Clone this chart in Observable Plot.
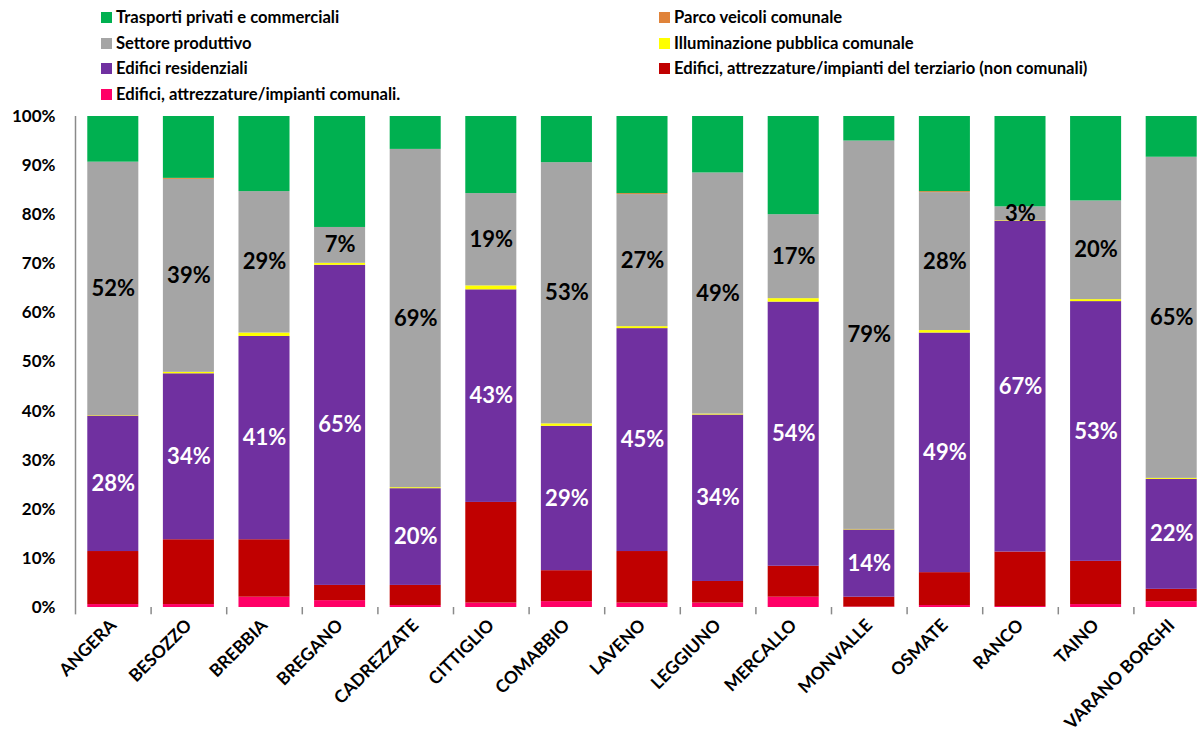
<!DOCTYPE html>
<html>
<head>
<meta charset="utf-8">
<script src="https://cdn.jsdelivr.net/npm/d3@7"></script>
<script src="https://cdn.jsdelivr.net/npm/@observablehq/plot@0.6"></script>
<style>
  html, body { margin: 0; padding: 0; background: #fff; }
  #wrap { position: relative; width: 1199px; height: 734px; overflow: hidden; font-family: Lato, "Open Sans", sans-serif; font-weight: bold; }
  #chart { position: absolute; left: 0; top: 0; }
  .leg { position: absolute; display: flex; align-items: center; font-size: 16.6px; color: #000; white-space: nowrap; line-height: 1; }
  .sw { display: inline-block; width: 11px; height: 11px; margin-right: 4px; }
</style>
</head>
<body>
<div id="wrap">
  <div id="chart"></div>
  <div id="legend"></div>
</div>
<script>
const cities = ["ANGERA","BESOZZO","BREBBIA","BREGANO","CADREZZATE","CITTIGLIO","COMABBIO","LAVENO","LEGGIUNO","MERCALLO","MONVALLE","OSMATE","RANCO","TAINO","VARANO BORGHI"];

// series, bottom to top of the stack
const seriesNames = [
  "Edifici, attrezzature/impianti comunali.",
  "Edifici, attrezzature/impianti del terziario (non comunali)",
  "Edifici residenziali",
  "Illuminazione pubblica comunale",
  "Settore produttivo",
  "Parco veicoli comunale",
  "Trasporti privati e commerciali"
];
const seriesColors = ["#FF0066","#C00000","#7030A0","#FFFF00","#A5A5A5","#E0833A","#00B050"];

// values in percent
const comunali      = [0.6, 0.6, 2.1, 1.4, 0.4, 0.9, 1.2, 0.9, 0.9, 2.1, 0.1, 0.4, 0.2, 0.6, 1.2];
const terziario     = [10.8, 13.2, 11.7, 3.1, 4.1, 20.5, 6.3, 10.5, 4.4, 6.3, 2.0, 6.7, 11.1, 8.8, 2.5];
const residenziali  = [27.6, 33.8, 41.4, 65.2, 19.7, 43.3, 29.4, 45.4, 33.9, 53.8, 13.7, 48.8, 67.4, 52.9, 22.4];
const illuminazione = [0.1, 0.3, 0.7, 0.4, 0.2, 0.8, 0.5, 0.4, 0.2, 0.7, 0.1, 0.5, 0.1, 0.4, 0.2];
const produttivo    = [51.6, 39.3, 28.8, 7.3, 68.9, 18.8, 53.2, 26.9, 49.1, 17.1, 79.1, 28.1, 2.8, 20.1, 65.4];
const parcoVeicoli  = [0, 0.2, 0, 0, 0, 0, 0, 0.2, 0, 0, 0, 0.2, 0, 0, 0];
const trasporti     = [9.3, 12.6, 15.3, 22.6, 6.7, 15.7, 9.4, 15.7, 11.5, 20.0, 5.0, 15.3, 18.4, 17.2, 8.3];

const seriesValues = [comunali, terziario, residenziali, illuminazione, produttivo, parcoVeicoli, trasporti];
const labelled = {"Edifici residenziali": "#ffffff", "Settore produttivo": "#000000"};

const yTicks = [0,10,20,30,40,50,60,70,80,90,100];
const yTickLabels = ["0%","10%","20%","30%","40%","50%","60%","70%","80%","90%","100%"];

// legend layout (display order)
const legendOrder = [
  "Trasporti privati e commerciali", "Parco veicoli comunale",
  "Settore produttivo", "Illuminazione pubblica comunale",
  "Edifici residenziali", "Edifici, attrezzature/impianti del terziario (non comunali)",
  "Edifici, attrezzature/impianti comunali."
];

const data = [];
seriesNames.forEach((s, si) => {
  cities.forEach((c, ci) => data.push({city: c, series: s, value: seriesValues[si][ci]}));
});

const W = 1199, H = 734;
const x0 = 75, x1 = 1209;
const step = (x1 - x0) / cities.length;
const grid = "#8a8a8a";

const chart = Plot.plot({
  width: W,
  height: H,
  marginTop: 116,
  marginBottom: 127,
  marginLeft: 75,
  marginRight: 0,
  style: {fontFamily: "Lato, 'Open Sans', sans-serif", fontWeight: "bold", color: "#000", background: "#fff"},
  x: {domain: cities, range: [x0, x1], paddingInner: 0.325, paddingOuter: 0.1625, round: false, label: null},
  y: {domain: [0, 100], label: null},
  color: {domain: seriesNames, range: seriesColors},
  marks: [
    Plot.ruleY(yTicks, {stroke: grid, strokeWidth: 1.5, x1: cities[0], dx: -step / 2 - 7}),
    Plot.barY(data, Plot.stackY({x: "city", y: "value", z: "series", fill: "series"})),
    Plot.text(data, Plot.stackY({
      x: "city", y: "value", z: "series",
      text: d => (d.series in labelled) ? Math.round(d.value) + "%" : null,
      fill: d => labelled[d.series] || "#000",
      fontSize: 22, fontWeight: "bold"
    })),
    Plot.ruleX(cities, {x: d => d, dx: -step / 2, y1: 0, y2: -1.5, stroke: grid, strokeWidth: 1.5}),
    Plot.axisY(yTicks, {tickFormat: d => yTickLabels[yTicks.indexOf(d)], tickSize: 0, tickPadding: 20, fontSize: 17, fontWeight: "bold", fill: "#000"}),
    Plot.ruleX([cities[0]], {x: d => d, dx: -step / 2, y1: 0, y2: 100, stroke: grid, strokeWidth: 1.5}),
    Plot.axisX({tickSize: 0, tickRotate: -45, tickPadding: 15, fontSize: 17.5, fontWeight: "bold", fill: "#000"})
  ]
});
document.getElementById("chart").appendChild(chart);

// HTML legend
const legend = document.getElementById("legend");
const legPos = [
  [101, 17], [659, 17],
  [101, 43], [659, 43],
  [101, 68], [659, 68],
  [101, 94]
];
legendOrder.forEach((name, i) => {
  const div = document.createElement("div");
  div.className = "leg";
  div.style.left = legPos[i][0] + "px";
  div.style.top = (legPos[i][1] - 9) + "px";
  div.style.height = "18px";
  const sw = document.createElement("span");
  sw.className = "sw";
  sw.style.background = seriesColors[seriesNames.indexOf(name)];
  div.appendChild(sw);
  div.appendChild(document.createTextNode(name));
  legend.appendChild(div);
});
</script>
</body>
</html>
